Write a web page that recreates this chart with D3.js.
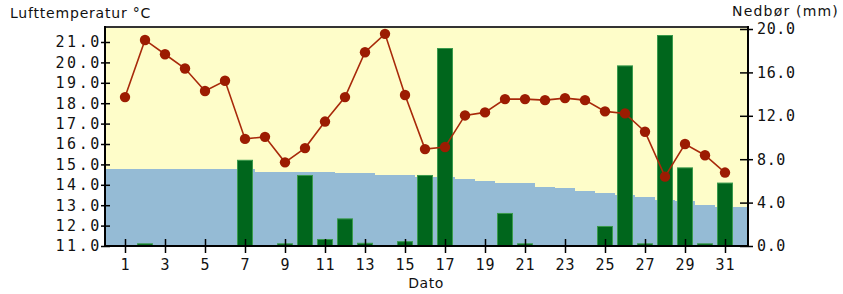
<!DOCTYPE html>
<html>
<head>
<meta charset="utf-8">
<script src="https://cdn.jsdelivr.net/npm/d3@7/dist/d3.min.js"></script>
<style>
  body { margin: 0; background: #fff; }
</style>
</head>
<body>
<div id="chart"></div>
<script>
const days = [1, 2, 3, 4, 5, 6, 7, 8, 9, 10, 11, 12, 13, 14, 15, 16, 17, 18, 19, 20, 21, 22, 23, 24, 25, 26, 27, 28, 29, 30, 31]
const temperature = [18.3, 21.1, 20.4, 19.7, 18.6, 19.1, 16.25, 16.35, 15.1, 15.8, 17.1, 18.3, 20.5, 21.4, 18.4, 15.75, 15.85,
  17.4, 17.55, 18.2, 18.2, 18.15, 18.25, 18.15, 17.6, 17.5, 16.6, 14.4, 16.0, 15.45, 14.6]
const precipitation = [0, 0.2, 0, 0, 0, 0, 7.9, 0, 0.2, 6.5, 0.6, 2.5, 0.25, 0, 0.4, 6.5, 18.2, 0, 0, 3.0, 0.2, 0, 0, 0,
  1.8, 16.6, 0.2, 19.4, 7.2, 0.2, 5.8]
const normalTemp = [14.76, 14.76, 14.76, 14.76, 14.76, 14.76, 14.76, 14.65, 14.65, 14.65, 14.65, 14.56, 14.56, 14.48, 14.48,
  14.38, 14.38, 14.28, 14.2, 14.07, 14.07, 13.9, 13.83, 13.7, 13.6, 13.5, 13.39, 13.25, 13.2, 13.02, 12.9]
const tempTicks = [11, 12, 13, 14, 15, 16, 17, 18, 19, 20, 21]
const rainTicks = [0, 4, 8, 12, 16, 20]
const dayTicks = [1, 3, 5, 7, 9, 11, 13, 15, 17, 19, 21, 23, 25, 27, 29, 31]

const WIDTH = 843
const HEIGHT = 294
const LEFT = 105
const RIGHT = 748
const TOP = 27
const BOTTOM = 246
const MONO = "'DejaVu Sans Mono', monospace"
const SANS = "'DejaVu Sans', sans-serif"

const x = d3.scaleLinear().domain([0, 32.15]).range([LEFT, RIGHT])
const yT = d3.scaleLinear().domain([11, 21]).range([BOTTOM, 42])
const yR = d3.scaleLinear().domain([0, 20]).range([BOTTOM, 29])

const svg = d3.select("#chart")
  .append("svg")
  .attr("width", WIDTH)
  .attr("height", HEIGHT)

// plot background
svg.append("rect")
  .attr("x", LEFT)
  .attr("y", TOP)
  .attr("width", RIGHT - LEFT)
  .attr("height", BOTTOM - TOP)
  .attr("fill", "#fefdc9")

// normal temperature, stepped
const normalData = [{ day: x.domain()[0], t: normalTemp[0] }]
  .concat(days.map((d, i) => ({ day: d, t: normalTemp[i] })))
  .concat([{ day: x.domain()[1], t: normalTemp[normalTemp.length - 1] }])

svg.append("path")
  .datum(normalData)
  .attr("d", d3.area()
    .x(d => x(d.day))
    .y0(BOTTOM)
    .y1(d => yT(d.t))
    .curve(d3.curveStep))
  .attr("fill", "#95bbd5")
  .attr("shape-rendering", "crispEdges")

// precipitation bars
svg.append("g")
  .selectAll("rect")
  .data(days.filter((d, i) => precipitation[i] > 0))
  .join("rect")
  .attr("x", d => x(d) - 7.5)
  .attr("y", d => yR(precipitation[d - 1]))
  .attr("width", 15)
  .attr("height", d => BOTTOM - yR(precipitation[d - 1]))
  .attr("fill", "#00661c")
  .attr("stroke", "#3a9a4c")
  .attr("stroke-width", 1)

// temperature line
svg.append("path")
  .datum(days)
  .attr("d", d3.line()
    .x(d => x(d))
    .y(d => yT(temperature[d - 1])))
  .attr("fill", "none")
  .attr("stroke", "#a8290a")
  .attr("stroke-width", 1.6)

svg.append("g")
  .selectAll("circle")
  .data(days)
  .join("circle")
  .attr("cx", d => x(d))
  .attr("cy", d => yT(temperature[d - 1]))
  .attr("r", 5.2)
  .attr("fill", "#9c1c02")

// axes
const styleTicks = g => {
  g.select(".domain").remove()
  g.selectAll(".tick line").attr("stroke", "#000").attr("stroke-width", 1.5)
  g.selectAll(".tick text")
    .attr("fill", "#111")
    .attr("font-family", MONO)
    .attr("font-size", "15px")
}

svg.append("g")
  .attr("transform", `translate(${LEFT},0)`)
  .call(d3.axisLeft(yT).tickValues(tempTicks).tickFormat(d3.format(".1f")).tickSizeInner(4).tickSizeOuter(0))
  .call(styleTicks)
  .call(g => g.selectAll(".tick line").attr("x1", 5))
  .call(g => g.selectAll(".tick text").attr("x", -3).attr("letter-spacing", "2.6px"))

svg.append("g")
  .attr("transform", `translate(${RIGHT},0)`)
  .call(d3.axisRight(yR).tickValues(rainTicks).tickFormat(d3.format(".1f")).tickSizeInner(5).tickSizeOuter(0))
  .call(styleTicks)
  .call(g => g.selectAll(".tick line").attr("x1", -8))
  .call(g => g.selectAll(".tick text").attr("x", 9).attr("letter-spacing", "0.6px"))

svg.append("g")
  .attr("transform", `translate(0,${BOTTOM})`)
  .call(d3.axisBottom(x).tickValues(dayTicks).tickFormat(d3.format("d")).tickSizeInner(7).tickSizeOuter(0))
  .call(styleTicks)
  .call(g => g.selectAll(".tick line").attr("y1", -7))
  .call(g => g.selectAll(".tick text").attr("y", 24).attr("dy", 0).attr("letter-spacing", "1px"))

// frame
const frame = svg.append("g")
  .attr("stroke", "#000")
  .attr("stroke-width", 2)
frame.append("line").attr("x1", LEFT).attr("x2", RIGHT).attr("y1", TOP).attr("y2", TOP).attr("stroke", "#333")
frame.append("line").attr("x1", LEFT).attr("x2", LEFT).attr("y1", TOP - 1).attr("y2", BOTTOM + 1)
frame.append("line").attr("x1", RIGHT).attr("x2", RIGHT).attr("y1", TOP - 1).attr("y2", BOTTOM + 1)
frame.append("line").attr("x1", LEFT).attr("x2", RIGHT).attr("y1", BOTTOM).attr("y2", BOTTOM)

// titles
svg.append("text")
  .attr("x", 10)
  .attr("y", 18)
  .attr("font-family", SANS)
  .attr("font-size", "14px")
  .attr("letter-spacing", "0.8px")
  .attr("fill", "#111")
  .text("Lufttemperatur °C")

svg.append("text")
  .attr("x", 839)
  .attr("y", 16)
  .attr("text-anchor", "end")
  .attr("font-family", SANS)
  .attr("font-size", "14px")
  .attr("letter-spacing", "1.2px")
  .attr("fill", "#111")
  .text("Nedbør (mm)")

svg.append("text")
  .attr("x", 426)
  .attr("y", 288)
  .attr("text-anchor", "middle")
  .attr("font-family", SANS)
  .attr("font-size", "14px")
  .attr("letter-spacing", "0.5px")
  .attr("fill", "#111")
  .text("Dato")
</script>
</body>
</html>
